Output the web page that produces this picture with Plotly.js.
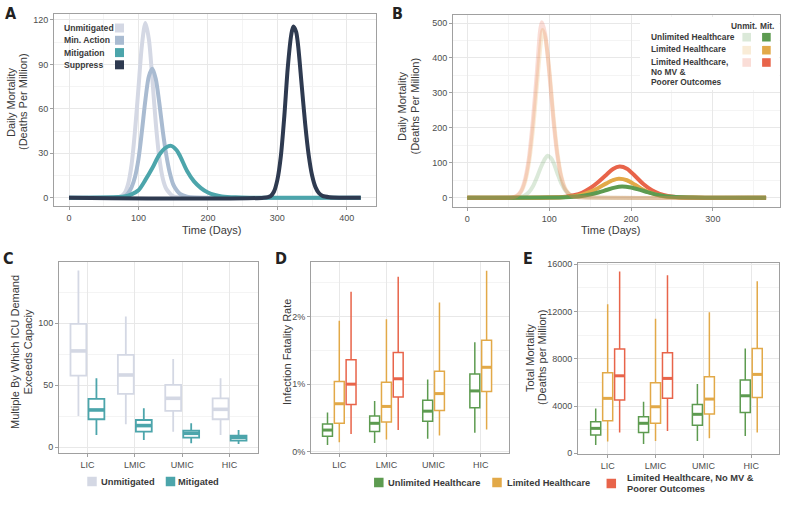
<!DOCTYPE html>
<html><head><meta charset="utf-8">
<script src="https://cdn.plot.ly/plotly-3.0.1.min.js"></script>
<style>html,body{margin:0;padding:0;background:#fff}#chart{width:787px;height:507px}</style>
</head><body><div id="chart"></div>
<script>
// ---------- Panel A : daily mortality by scenario ----------
const dayUnmitA = [0,70,75,80,85,90,95,100,105,110,115,120,125,130,135,140,145,150,160,420];
const valUnmitA = [0,0.3,1,3,9,22,45,74,103,118,107,80,50,27,13,6,3,1,0.3,0];
const dayMinA = [0,75,80,85,90,95,100,105,110,115,120,125,130,135,140,145,150,155,160,170,180,420];
const valMinA = [0,0.3,1,3,7,14,26,45,66,82,87,80,64,45,29,17,9,5,2.5,0.7,0.2,0];
const dayMitA = [0,80,90,100,110,120,130,140,147,155,160,170,180,190,200,210,220,240,260,420];
const valMitA = [0,0.8,2.2,5,12,20,29,34,35,32,28,18,11,6.5,3.5,1.8,0.9,0.25,0.05,0];
const daySupA = [0,280,290,295,300,305,310,315,320,323,327,330,335,340,345,350,355,360,365,375,390,420];
const valSupA = [0,0,1,4,12,28,55,88,110,115.5,112,102,76,50,29,15,7,3,1.2,0.3,0,0];
const seriesA = ['Unmitigated','Min. Action','Mitigation','Suppress'];
const dayTicksA = [0,100,200,300,400];
const mortTicksA = [0,30,60,90,120];

// ---------- Panel B : daily mortality by healthcare scenario ----------
const dayUnlUnmitB = [0,60,65,70,75,80,85,90,95,98,102,105,110,115,120,125,130,140,365];
const valUnlUnmitB = [0,0.5,2,6,15,32,58,88,112,120,114,102,70,40,20,9,4,1,0];
const dayLimUnmitB = [0,55,60,65,70,75,80,85,90,92,95,100,105,110,115,120,125,130,140,365];
const valLimUnmitB = [0,1,4,14,40,95,190,320,450,480,460,370,240,130,60,25,10,4,1,0];
const dayPoorUnmitB = [0,55,60,65,70,75,80,85,89,91,95,100,105,110,115,120,125,130,140,365];
const valPoorUnmitB = [0,1,5,17,48,110,220,360,480,502,470,360,225,120,55,22,9,3.5,1,0];
const dayUnlMitB = [0,100,120,130,140,150,160,170,180,189,200,210,220,230,240,250,260,290,365];
const valUnlMitB = [0,0.3,1.2,2.5,5,9,15,22,29,32,29,23,16,9.5,5,2.5,1.2,0.2,0];
const dayLimMitB = [0,100,120,130,140,150,160,170,178,185,195,205,215,225,235,245,255,275,300,365];
const valLimMitB = [0,0.5,2,4.5,9,17,28,41,50,54,50,37,23,13,6.5,3,1.3,0.3,0,0];
const dayPoorMitB = [0,100,120,130,140,150,160,170,178,186,195,205,215,225,235,245,255,275,300,365];
const valPoorMitB = [0,0.8,3,7,14,27,45,66,82,89,83,62,39,22,11,5,2.2,0.5,0,0];
const seriesB = ['Unlimited Healthcare','Limited Healthcare','Limited Healthcare,','No MV &','Poorer Outcomes'];
const dayTicksB = [0,100,200,300];
const mortTicksB = [0,100,200,300,400,500];

// ---------- Panels C, D, E : boxplots by income group ----------
const incomeGroups = ['LIC','LMIC','UMIC','HIC'];
// C: ICU demand multiple
const icuUnmitLow = [25.3,18.5,12.6,9.9];
const icuUnmitQ1  = [57.8,43,29.3,22.6];
const icuUnmitMed = [77.7,58.3,39.5,30.6];
const icuUnmitQ3  = [99.5,74.5,50.3,39.5];
const icuUnmitHigh= [142.5,105.4,71.2,55.6];
const icuMitLow = [9.9,5.9,3.2,2.7];
const icuMitQ1  = [22.6,12.6,7.8,5.4];
const icuMitMed = [30.1,17.5,11.3,8];
const icuMitQ3  = [39,22,13.4,9.4];
const icuMitHigh= [55.6,31.5,19.4,14];
const icuTicks = [0,50,100];
// D: infection fatality rate (%)
const ifrUnlLow = [0.10,0.13,0.19,0.28];
const ifrUnlQ1  = [0.23,0.30,0.45,0.65];
const ifrUnlMed = [0.32,0.42,0.60,0.90];
const ifrUnlQ3  = [0.41,0.53,0.76,1.15];
const ifrUnlHigh= [0.58,0.75,1.07,1.62];
const ifrLimLow = [0.14,0.18,0.24,0.33];
const ifrLimQ1  = [0.42,0.44,0.61,0.89];
const ifrLimMed = [0.71,0.67,0.86,1.25];
const ifrLimQ3  = [1.04,1.03,1.19,1.65];
const ifrLimHigh= [1.94,1.96,2.21,2.68];
const ifrPoorLow = [0.26,0.32];
const ifrPoorQ1  = [0.70,0.81];
const ifrPoorMed = [1.00,1.08];
const ifrPoorQ3  = [1.36,1.47];
const ifrPoorHigh= [2.37,2.59];
const ifrTicks = [0,1,2];
const ifrTickText = ['0%','1%','2%'];
// E: total mortality (deaths per million)
const totUnlLow = [700,790,1040,1460];
const totUnlQ1  = [1550,1750,2370,3460];
const totUnlMed = [2110,2540,3300,4870];
const totUnlQ3  = [2680,3100,4140,6200];
const totUnlHigh= [3800,4370,5860,8870];
const totLimLow = [990,1040,1270,1750];
const totLimQ1  = [2760,2540,3320,4730];
const totLimMed = [4650,3940,4590,6680];
const totLimQ3  = [6820,5970,6480,8870];
const totLimHigh= [12620,11380,11940,14560];
const totPoorLow = [1770,1890];
const totPoorQ1  = [4510,4650];
const totPoorMed = [6560,6340];
const totPoorQ3  = [8820,8510];
const totPoorHigh= [15400,15070];
const totTicks = [0,4000,8000,12000,16000];

// ---------- styling ----------
const W = 787, H = 507;
const PX = v => v / W, PY = v => 1 - v / H;
const F = 'Liberation Sans, Arial, Helvetica, sans-serif';
const FL = '"Liberation Sans Narrow", "DejaVu Sans Condensed", "Liberation Sans", sans-serif';
const colA = ['#d4d8e4','#a9bbd1','#4ca5ab','#2e3a50'];
const cGreen = '#5d9b50', cOrange = '#e2a948', cRed = '#e8644a';
const unmitAlpha = 0.22;
const rgba = (hex, a) => { const n = parseInt(hex.slice(1),16); return `rgba(${n>>16},${(n>>8)&255},${n&255},${a})`; };
const cIcuUn = '#d4d8e4', cIcuMit = '#4ca5ab';

function ax(extra) {
  return Object.assign({
    showline: true, mirror: true, linecolor: '#a0a0a0', linewidth: 1,
    ticks: 'outside', ticklen: 3, tickcolor: '#a0a0a0', tickwidth: 1,
    tickfont: {family: F, size: 9, color: '#4d4d4d'}, tickmode: 'array', ticklabeloverflow: 'allow',
    showgrid: true, gridcolor: '#e8e8e8', gridwidth: 1, zeroline: false, fixedrange: true
  }, extra);
}
const minorV = v => ({tickvals: v, showgrid: true, gridcolor: '#f4f4f4', ticks: ''});
const mids = t => t.slice(0,-1).map((v,i)=>(v+t[i+1])/2).concat([t[t.length-1]+(t[1]-t[0])/2]);

const traces = [];
[[dayUnmitA,valUnmitA],[dayMinA,valMinA],[dayMitA,valMitA],[daySupA,valSupA]].forEach((s,i)=>{
  traces.push({type:'scatter', mode:'lines', x:s[0], y:s[1], name:seriesA[i], xaxis:'x', yaxis:'y',
    line:{color:colA[i], width:4, shape:'spline', smoothing:0.8}, hoverinfo:'skip', showlegend:false});
});
[[dayPoorMitB,valPoorMitB,cRed],[dayLimMitB,valLimMitB,cOrange],[dayUnlMitB,valUnlMitB,cGreen]].forEach(s=>{
  traces.push({type:'scatter', mode:'lines', x:s[0], y:s[1], xaxis:'x2', yaxis:'y2',
    line:{color:s[2], width:4, shape:'spline', smoothing:0.8}, hoverinfo:'skip', showlegend:false});
});
[[dayUnlUnmitB,valUnlUnmitB,cGreen],[dayLimUnmitB,valLimUnmitB,cOrange],[dayPoorUnmitB,valPoorUnmitB,cRed]].forEach(s=>{
  traces.push({type:'scatter', mode:'lines', x:s[0], y:s[1], xaxis:'x2', yaxis:'y2', opacity:unmitAlpha,
    line:{color:s[2], width:4, shape:'spline', smoothing:0.8}, hoverinfo:'skip', showlegend:false});
});

function addBox(xa, ya, pos, width, lo, q1, med, q3, hi, color, lw) {
  traces.push({type:'box', x:pos, q1:q1, median:med, q3:q3, lowerfence:lo, upperfence:hi,
    width:width, fillcolor:'#ffffff', line:{color:color, width:lw}, whiskerwidth:0,
    xaxis:xa, yaxis:ya, hoverinfo:'skip', showlegend:false, boxpoints:false});
  const mx = [], my = [];
  pos.forEach((p,i)=>{ mx.push(p-width/2, p+width/2, null); my.push(med[i], med[i], null); });
  traces.push({type:'scatter', mode:'lines', x:mx, y:my, xaxis:xa, yaxis:ya,
    line:{color:color, width:lw*2}, hoverinfo:'skip', showlegend:false});
}
const idx = incomeGroups.map((_,i)=>i);
addBox('x3','y3', idx.map(i=>i-0.19), 0.335, icuUnmitLow, icuUnmitQ1, icuUnmitMed, icuUnmitQ3, icuUnmitHigh, cIcuUn, 1.8);
addBox('x3','y3', idx.map(i=>i+0.19), 0.335, icuMitLow, icuMitQ1, icuMitMed, icuMitQ3, icuMitHigh, cIcuMit, 1.8);

function dodge(nRed) {
  return {
    g: idx.map(i => i < nRed ? i-0.25 : i-0.125),
    o: idx.map(i => i < nRed ? i : i+0.125),
    r: idx.slice(0,nRed).map(i => i+0.25)
  };
}
const dD = dodge(ifrPoorMed.length);
addBox('x4','y4', dD.g, 0.21, ifrUnlLow, ifrUnlQ1, ifrUnlMed, ifrUnlQ3, ifrUnlHigh, cGreen, 1.5);
addBox('x4','y4', dD.o, 0.21, ifrLimLow, ifrLimQ1, ifrLimMed, ifrLimQ3, ifrLimHigh, cOrange, 1.5);
addBox('x4','y4', dD.r, 0.21, ifrPoorLow, ifrPoorQ1, ifrPoorMed, ifrPoorQ3, ifrPoorHigh, cRed, 1.5);
const dE = dodge(totPoorMed.length);
addBox('x5','y5', dE.g, 0.21, totUnlLow, totUnlQ1, totUnlMed, totUnlQ3, totUnlHigh, cGreen, 1.5);
addBox('x5','y5', dE.o, 0.21, totLimLow, totLimQ1, totLimMed, totLimQ3, totLimHigh, cOrange, 1.5);
addBox('x5','y5', dE.r, 0.21, totPoorLow, totPoorQ1, totPoorMed, totPoorQ3, totPoorHigh, cRed, 1.5);

const catAxis = (dom, rng, anchor) => ax({domain:dom, range:rng, anchor:anchor, tickvals:idx, ticktext:incomeGroups});
const numAxis = (dom, rng, anchor, ticks, text) => ax({domain:dom, range:rng, anchor:anchor,
  tickvals:ticks, ticktext:text || ticks.map(String), minor:minorV(mids(ticks))});

const layout = {
  width: W, height: H, margin: {l:0, r:0, t:0, b:0},
  paper_bgcolor: '#ffffff', plot_bgcolor: '#ffffff', showlegend: false, boxmode: 'overlay',
  font: {family: F, color: '#333'},
  xaxis:  numAxis([PX(54),PX(376)], [-21.6,442], 'y', dayTicksA),
  yaxis:  numAxis([PY(206),PY(14)], [-5.6,124], 'x', mortTicksA),
  xaxis2: numAxis([PX(453),PX(780)], [-17.5,382], 'y2', dayTicksB),
  yaxis2: numAxis([PY(207),PY(15)], [-26.6,523], 'x2', mortTicksB),
  xaxis3: catAxis([PX(59),PX(258)], [-0.6,3.6], 'y3'),
  yaxis3: numAxis([PY(453),PY(262)], [-4.6,149.4], 'x3', icuTicks),
  xaxis4: catAxis([PX(311),PX(509)], [-0.6,3.6], 'y4'),
  yaxis4: numAxis([PY(453),PY(262)], [-0.02,2.81], 'x4', ifrTicks, ifrTickText),
  xaxis5: catAxis([PX(578),PX(779)], [-0.62,3.58], 'y5'),
  yaxis5: numAxis([PY(454),PY(263)], [-60,16110], 'x5', totTicks),
  annotations: [], shapes: []
};

const ann = (text, x, y, o) => layout.annotations.push(Object.assign({
  text: text, x: PX(x), y: PY(y), xref:'paper', yref:'paper', showarrow:false,
  xanchor:'center', yanchor:'middle', font:{family:F, size:11, color:'#3a3a3a'}}, o||{}));
const sq = (cx, cy, s, color) => layout.shapes.push({type:'rect', xref:'paper', yref:'paper',
  x0:PX(cx-s/2), x1:PX(cx+s/2), y0:PY(cy+s/2), y1:PY(cy-s/2), fillcolor:color, line:{width:0}, layer:'above'});

const letterFont = {family: FL, size: 16, color: '#222'};
[['A',11,13],['B',397.5,13],['C',8,258],['D',281,258],['E',527.5,258]].forEach(l =>
  ann('<b>'+l[0]+'</b>', l[1], l[2], {font: letterFont}));

const vt = {textangle:-90};
ann('Daily Mortality', 11, 102, vt); ann('(Deaths Per Million)', 23, 102, vt);
ann('Time (Days)', 212, 230);
ann('Daily Mortality', 402, 106, vt); ann('(Deaths Per Million)', 414.5, 106, vt);
ann('Time (Days)', 610, 230);
ann('Multiple By Which ICU Demand', 15, 352, vt); ann('Exceeds Capaciy', 27.5, 352, vt);
ann('Infection Fatality Rate', 287, 352, vt);
ann('Total Mortality', 530, 358, vt); ann('(Deaths per Million)', 542, 358, vt);

const legA = {xanchor:'left', font:{family:F, size:8.6, color:'#3a3a3a'}};
[28, 40.3, 52.6, 64.8].forEach((y,i)=>{ ann('<b>'+seriesA[i]+'</b>', 62, y, legA); sq(119.5, y, 9, colA[i]); });

layout.shapes.push({type:'rect', xref:'x2 domain', yref:'y2 domain',
  x0:(640-453)/(780-453), x1:0.998, y0:(207-90)/(207-15), y1:(207-17)/(207-15),
  fillcolor:'#ffffff', line:{width:0}, layer:'above'});
const legB = {xanchor:'left', font:{family:F, size:8.4, color:'#3a3a3a'}};
ann('<b>Unmit.</b>', 744, 26, {font:legB.font});
ann('<b>Mit.</b>', 767, 26, {font:legB.font});
[37, 49.5, 62, 71.8, 81.6].forEach((y,i)=> ann('<b>'+seriesB[i].replace('&','&amp;')+'</b>', 649, y, legB));
[[37.2,cGreen],[50.2,cOrange],[62.5,cRed]].forEach(r=>{ sq(746.7, r[0], 8.6, rgba(r[1],unmitAlpha)); sq(766.4, r[0], 8.6, r[1]); });

const legC = {xanchor:'left', font:{family:F, size:9.3, color:'#3a3a3a'}};
sq(92, 481.5, 9.5, cIcuUn); ann('<b>Unmitigated</b>', 98.5, 482, legC);
sq(170.5, 481.5, 9.5, cIcuMit); ann('<b>Mitigated</b>', 176, 482, legC);

sq(378.8, 482.5, 9.5, cGreen); ann('<b>Unlimited Healthcare</b>', 386, 482.5, legC);
sq(497, 482.5, 9.5, cOrange); ann('<b>Limited Healthcare</b>', 505, 482.5, legC);
sq(611.3, 483.5, 9.5, cRed); ann('<b>Limited Healthcare, No MV &amp;</b>', 624.5, 478, legC);
ann('<b>Poorer Outcomes</b>', 624.5, 489, legC);

Plotly.newPlot('chart', traces, layout, {staticPlot:true, displayModeBar:false});
</script>
</body></html>
